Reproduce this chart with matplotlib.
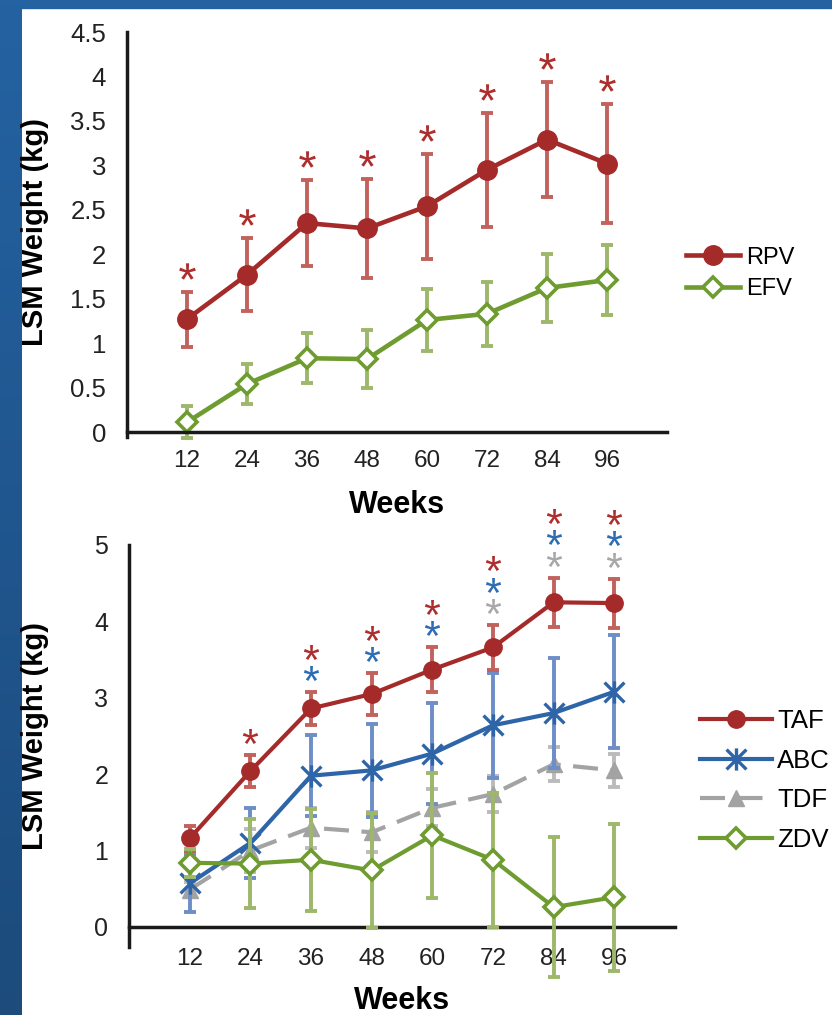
import numpy as np
import matplotlib
matplotlib.use('Agg')
import matplotlib.pyplot as plt
from matplotlib.path import Path
from matplotlib.textpath import TextPath
from matplotlib.font_manager import FontProperties
from matplotlib.transforms import ScaledTranslation
from matplotlib.patches import Rectangle
from matplotlib.colors import LinearSegmentedColormap

# ---------------- data ----------------
weeks = [12, 24, 36, 48, 60, 72, 84, 96]
week_labels = ['12', '24', '36', '48', '60', '72', '84', '96']

rpv_mean = [1.27, 1.77, 2.35, 2.29, 2.54, 2.95, 3.29, 3.02]
rpv_err = [0.31, 0.41, 0.48, 0.56, 0.59, 0.64, 0.65, 0.67]
efv_mean = [0.11, 0.54, 0.83, 0.82, 1.26, 1.33, 1.62, 1.71]
efv_err = [0.18, 0.23, 0.28, 0.33, 0.35, 0.36, 0.38, 0.39]
rpv_sig = [1, 1, 1, 1, 1, 1, 1, 1]

taf_mean = [1.16, 2.04, 2.86, 3.05, 3.37, 3.66, 4.25, 4.24]
taf_err = [0.16, 0.21, 0.21, 0.27, 0.29, 0.29, 0.32, 0.32]
abc_mean = [0.57, 1.10, 1.98, 2.05, 2.27, 2.64, 2.80, 3.08]
abc_err = [0.38, 0.46, 0.53, 0.61, 0.66, 0.69, 0.72, 0.74]
tdf_mean = [0.49, 1.00, 1.30, 1.24, 1.56, 1.74, 2.13, 2.05]
tdf_err = [0.10, 0.28, 0.26, 0.26, 0.24, 0.24, 0.22, 0.22]
zdv_mean = [0.84, 0.83, 0.88, 0.74, 1.20, 0.88, 0.26, 0.39]
zdv_err = [0.18, 0.58, 0.67, 0.75, 0.82, 0.88, 0.92, 0.96]
taf_sig = [0, 1, 1, 1, 1, 1, 1, 1]
abc_sig = [0, 0, 1, 1, 1, 1, 1, 1]
tdf_sig = [0, 0, 0, 0, 0, 1, 1, 1]

top_yticks = [0, 0.5, 1, 1.5, 2, 2.5, 3, 3.5, 4, 4.5]
top_ytick_labels = ['0', '0.5', '1', '1.5', '2', '2.5', '3', '3.5', '4', '4.5']
bot_yticks = [0, 1, 2, 3, 4, 5]
bot_ytick_labels = ['0', '1', '2', '3', '4', '5']

# ---------------- style ----------------
plt.rcParams['font.family'] = ['Liberation Sans', 'DejaVu Sans']

RED = '#A52A2A'
RED_ERR = '#C2625D'
GREEN = '#6F9C30'
GREEN_ERR = '#9DB86A'
BLUE = '#2E64A8'
BLUE_ERR = '#6D8EC6'
GRAY = '#A3A3A3'
GRAY_ERR = '#BBBBBB'
STAR_RED = '#AE2D2D'
STAR_BLUE = '#2E6DB4'
STAR_GRAY = '#A8A8A8'
AXC = '#1a1a1a'

W, H = 832, 1015
fig = plt.figure(figsize=(W / 100, H / 100), dpi=100)
fig.patch.set_facecolor('white')

# blue frame (left gradient strip + top band)
bg = fig.add_axes([0, 0, 22 / W, 1])
cmap = LinearSegmentedColormap.from_list('bg', ['#1c4b7c', '#2462a2'])
bg.imshow(np.linspace(0, 1, 256).reshape(-1, 1), aspect='auto', cmap=cmap,
          extent=[0, 1, 0, 1], origin='lower')
bg.axis('off')
fig.add_artist(Rectangle((0, 1 - 8 / H), 1, 8 / H, transform=fig.transFigure,
                         color='#2462a2', zorder=0))

# asterisk glyph path (significance stars), centred on its drawn extent
tp = TextPath((0, 0), '*', size=1, prop=FontProperties(family='Liberation Sans'))
codes = tp.codes
v = tp.vertices.copy()
real = codes != Path.CLOSEPOLY
c = (v[real].min(axis=0) + v[real].max(axis=0)) / 2
v = v - c
v[~real] = 0
STAR = Path(v, codes)

# Excel-like star marker (X + vertical bar)
ABC_MARK = Path([(-1, -1), (1, 1), (-1, 1), (1, -1), (0, -1.12), (0, 1.12)],
                [Path.MOVETO, Path.LINETO, Path.MOVETO, Path.LINETO, Path.MOVETO, Path.LINETO])


def setup(ax, yticks, ylabels, ymax, ylow, ytick_size):
    ax.set_xlim(0, 108)
    ax.set_ylim(0, ymax)
    for s in ['top', 'right']:
        ax.spines[s].set_visible(False)
    for s in ['left', 'bottom']:
        ax.spines[s].set_linewidth(2.5)
        ax.spines[s].set_color(AXC)
    ax.spines['left'].set_bounds(ylow, ymax)
    ax.set_xticks(weeks)
    ax.set_xticklabels(week_labels, fontsize=17.5, color='#222222')
    ax.set_yticks(yticks)
    ax.set_yticklabels(ylabels, fontsize=ytick_size, color='#222222')
    ax.tick_params(axis='both', length=0)
    ax.tick_params(axis='y', pad=15)
    ax.set_facecolor('none')


def series(ax, mean, err, color, ecolor, z, **kw):
    eb = ax.errorbar(weeks, mean, yerr=err, fmt='none', ecolor=ecolor,
                     elinewidth=2.8, capsize=4.2, capthick=2.8, zorder=z)
    for a in list(eb.lines[1]) + list(eb.lines[2]):
        a.set_clip_on(False)
    line, = ax.plot(weeks, mean, color=color, zorder=z + 0.5, clip_on=False, **kw)
    return line


def star(ax, x, y, off_px, color, size):
    tr = ax.transData + ScaledTranslation(0, off_px / 100, fig.dpi_scale_trans)
    ax.plot([x], [y], ls='none', marker=STAR, ms=size, color=color,
            mew=0, transform=tr, clip_on=False, zorder=7)


# ---------------- top panel ----------------
ax1 = fig.add_axes([127 / W, 1 - 432 / H, 540 / W, 400 / H])
setup(ax1, top_yticks, top_ytick_labels, 4.5, -0.06, 18.5)
ax1.tick_params(axis='x', pad=13)

l_rpv = series(ax1, rpv_mean, rpv_err, RED, RED_ERR, 3, lw=3.3, marker='o', ms=14,
               mfc=RED, mec=RED, label='RPV')
l_efv = series(ax1, efv_mean, efv_err, GREEN, GREEN_ERR, 2, lw=3.3, marker='D', ms=10.2,
               mfc='white', mec=GREEN, mew=2.6, label='EFV')

for w, m, e, s in zip(weeks, rpv_mean, rpv_err, rpv_sig):
    if s:
        star(ax1, w, m + e, 21, STAR_RED, 12)

ax1.set_xlabel('Weeks', fontsize=22, fontweight='bold')
ax1.xaxis.set_label_coords(0.5, (432 - 505) / 400)
ax1.xaxis.label.set_va('center')
ax1.set_ylabel('LSM Weight (kg)', fontsize=21, fontweight='bold')
ax1.yaxis.set_label_coords((35 - 127) / 540, 0.5)
ax1.yaxis.label.set_va('center')

ax1.legend(handles=[l_rpv, l_efv], loc='center left',
           bbox_to_anchor=(686 / W, 1 - 273.5 / H), bbox_transform=fig.transFigure,
           frameon=False, borderpad=0, borderaxespad=0, handlelength=2.3,
           handletextpad=0.25, labelspacing=0.42, numpoints=1,
           prop=FontProperties(family='Liberation Sans', size=17))

# ---------------- bottom panel ----------------
ax2 = fig.add_axes([129 / W, 1 - 927 / H, 546 / W, 382 / H])
setup(ax2, bot_yticks, bot_ytick_labels, 5, -0.26, 18)
ax2.tick_params(axis='x', pad=15)

l_taf = series(ax2, taf_mean, taf_err, RED, RED_ERR, 5, lw=3.0, marker='o', ms=12.5,
               mfc=RED, mec=RED, label='TAF')
l_abc = series(ax2, abc_mean, abc_err, BLUE, BLUE_ERR, 4, lw=3.0, marker=ABC_MARK, ms=16,
               mfc='none', mec=BLUE, mew=2.4, label='ABC')
l_tdf = series(ax2, tdf_mean, tdf_err, GRAY, GRAY_ERR, 3, lw=3.0, marker='^', ms=11,
               mfc=GRAY, mec=GRAY, dashes=(6, 3), label='TDF')
l_zdv = series(ax2, zdv_mean, zdv_err, GREEN, GREEN_ERR, 6, lw=3.0, marker='D', ms=10.5,
               mfc='white', mec=GREEN, mew=2.6, label='ZDV')

for w, m, e, st, sa, sg in zip(weeks, taf_mean, taf_err, taf_sig, abc_sig, tdf_sig):
    level = 0
    for flag, col in [(sg, STAR_GRAY), (sa, STAR_BLUE), (st, STAR_RED)]:
        if flag:
            star(ax2, w, m + e, 19 + 21.5 * level, col, 11)
            level += 1

ax2.set_xlabel('Weeks', fontsize=22, fontweight='bold')
ax2.xaxis.set_label_coords(0.5, (927 - 1001) / 382)
ax2.xaxis.label.set_va('center')
ax2.set_ylabel('LSM Weight (kg)', fontsize=21, fontweight='bold')
ax2.yaxis.set_label_coords((35 - 129) / 546, 0.5)
ax2.yaxis.label.set_va('center')

ax2.legend(handles=[l_taf, l_abc, l_tdf, l_zdv], loc='center left',
           bbox_to_anchor=(700 / W, 1 - 780.5 / H), bbox_transform=fig.transFigure,
           frameon=False, borderpad=0, borderaxespad=0, handlelength=2.8,
           handletextpad=0.2, labelspacing=0.6, numpoints=1,
           prop=FontProperties(family='Liberation Sans', size=18.5))

fig.savefig('out.png', dpi=100, facecolor='white')
